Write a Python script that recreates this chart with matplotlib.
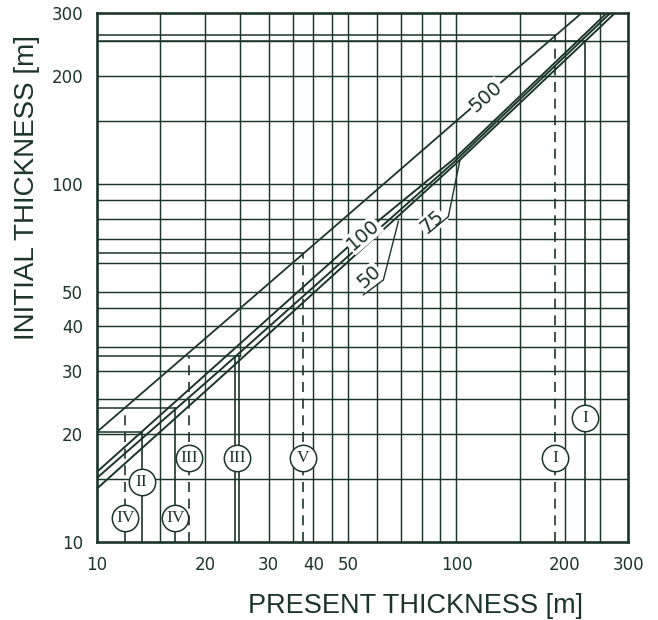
import matplotlib
matplotlib.use("Agg")
import matplotlib.pyplot as plt
from matplotlib.ticker import FixedLocator, NullLocator, FixedFormatter

# curves (present thickness -> initial thickness)
x_500 = [10, 20, 50, 100, 223]
y_500 = [20.3, 37.0, 82.0, 150.0, 300.0]
x_100 = [10, 22, 55, 100, 262]
y_100 = [15.7, 31.9, 72.8, 119.0, 300.0]
x_75 = [10, 22, 100, 268]
y_75 = [15.1, 30.2, 116.7, 300.0]
x_50 = [10, 22, 100, 276]
y_50 = [14.1, 28.7, 114.3, 300.0]

# grid of the chart paper
grid_x = [15, 20, 30, 35, 40, 45, 50, 60, 70, 80, 90, 100, 150, 200, 250]
grid_y = [15, 20, 25, 30, 35, 40, 45, 50, 60, 70, 80, 90, 100, 150, 200, 250]

tick_values = [10, 20, 30, 40, 50, 100, 200, 300]
tick_labels = ["10", "20", "30", "40", "50", "100", "200", "300"]

# worked examples: present thickness, initial thickness, curve used
example_present = [188, 228, 13.3, 18.0, 24.2, 24.9, 12.0, 16.5, 37.5]
example_initial = [260, 250, 20.3, 33, 33, 33, 23.6, 23.6, 64]
example_curve = ["500", "50", "100", "500", "75", "50", "500", "75", "500"]

circle_text = ["I", "I", "II", "III", "III", "IV", "IV", "V"]
circle_x = [188, 228, 13.3, 18.0, 24.55, 12.0, 16.5, 37.5]
circle_y = [17.2, 22.2, 14.7, 17.2, 17.2, 11.7, 11.7, 17.2]

ink = "#1c3529"

fig = plt.figure(figsize=(6.58, 6.2), dpi=100)
ax = fig.add_axes([97 / 658, 1 - 542 / 620, 531 / 658, 529 / 620])
ax.set_xscale("log")
ax.set_yscale("log")
ax.set_xlim(10, 300)
ax.set_ylim(10, 300)

# paper grid
for gx in grid_x:
    ax.plot([gx, gx], [10, 300], color=ink, lw=1.05, zorder=1)
for gy in grid_y:
    ax.plot([10, 300], [gy, gy], color=ink, lw=1.05, zorder=1)
ax.plot([25, 25], [33, 300], color=ink, lw=1.05, zorder=1)

# curves
ax.plot(x_500, y_500, color=ink, lw=1.3, zorder=3)
for xs, ys in [(x_100, y_100), (x_75, y_75), (x_50, y_50)]:
    ax.plot(xs, ys, color=ink, lw=1.4, zorder=3)

# reading lines of the examples
for px, iy, cv in zip(example_present, example_initial, example_curve):
    ls = (0, (6, 4)) if cv == "500" else "-"
    ax.plot([px, px], [10, iy], color=ink, lw=1.2, ls=ls, zorder=2)
horiz = {}
for px, iy in zip(example_present, example_initial):
    horiz[iy] = max(horiz.get(iy, 0), px)
for iy, px in horiz.items():
    ax.plot([10, px], [iy, iy], color=ink, lw=1.1, zorder=2)

# circled numerals
for t, cx, cy in zip(circle_text, circle_x, circle_y):
    ax.plot(cx, cy, "o", ms=19, mfc="white", mec=ink, mew=1.1, zorder=5)
    ax.text(cx, cy, t, ha="center", va="center", fontsize=12.5,
            family="Liberation Serif", color=ink, zorder=6)

# curve labels
lab = dict(rotation=41, rotation_mode="anchor", ha="center", va="center",
           fontsize=14, color=ink, zorder=6,
           bbox=dict(fc="white", ec="none", pad=0.5))
ax.text(121, 175.4, "500", **lab)
ax.text(55.0, 72.0, "100", **lab)
ax.text(57.1, 54.9, "50", **lab)
ax.text(85.6, 78.5, "75", **lab)
ax.plot([55.1, 62.6, 68.9], [49.0, 53.9, 78.5], color=ink, lw=1.0, zorder=7)
ax.plot([83.5, 94.9, 102.3], [72.8, 81.0, 116.7], color=ink, lw=1.0, zorder=7)

ax.xaxis.set_major_locator(FixedLocator(tick_values))
ax.xaxis.set_major_formatter(FixedFormatter(tick_labels))
ax.xaxis.set_minor_locator(NullLocator())
ax.yaxis.set_major_locator(FixedLocator(tick_values))
ax.yaxis.set_major_formatter(FixedFormatter(tick_labels))
ax.yaxis.set_minor_locator(NullLocator())
ax.tick_params(length=0, labelsize=12, labelcolor=ink, pad=10)
for s in ax.spines.values():
    s.set_linewidth(1.9)
    s.set_color(ink)

fig.text(415 / 658, 1 - 606 / 620, "PRESENT THICKNESS [m]", ha="center",
         va="center", fontsize=19.5, family="Liberation Sans", color=ink)
fig.text(27 / 658, 1 - 188 / 620, "INITIAL THICKNESS [m]", ha="center",
         va="center", rotation=90, fontsize=20, family="Liberation Sans",
         color=ink)

fig.savefig("out.png", dpi=100)
